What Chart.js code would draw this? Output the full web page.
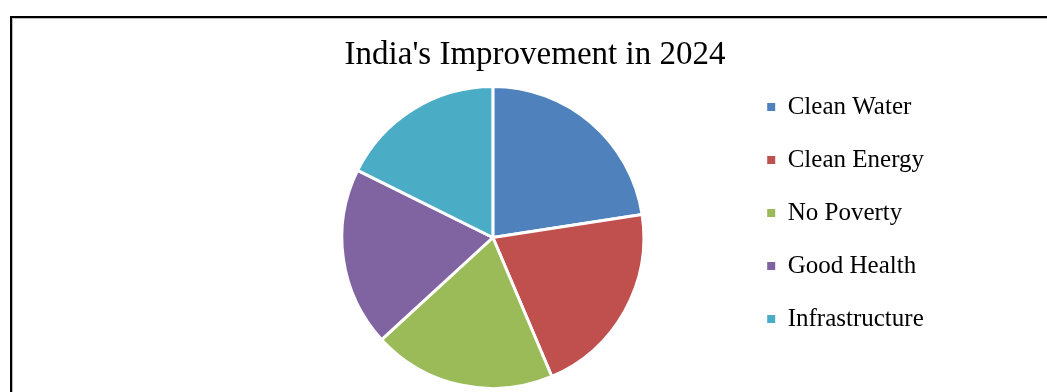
<!DOCTYPE html>
<html>
<head>
<meta charset="utf-8">
<script src="https://cdn.jsdelivr.net/npm/chart.js@4"></script>
<style>
  html, body { margin: 0; padding: 0; background: #fff; overflow: hidden; }
  #frame {
    position: absolute; left: 10px; top: 16px;
    width: 1060px; height: 400px;
    border: 2px solid #000; background: #fff;
  }
  #inner { border-top: 1px solid #bbb; border-left: 1px solid #bbb; height: 100%; }
  canvas { display: block; }
</style>
</head>
<body>
<div id="frame"><div id="inner"><canvas id="MyChart" width="1040" height="371"></canvas></div></div>
<script>
const categories = ['Clean Water', 'Clean Energy', 'No Poverty', 'Good Health', 'Infrastructure']
const shares = [22.6, 21.1, 19.6, 19.2, 17.7]
const sliceColors = ['#4F81BD', '#C0504D', '#9BBB59', '#8064A2', '#4BACC6']

let MyChart = document.getElementById('MyChart').getContext('2d')

// default pie legend items, but without the white slice border on the little squares
const pieLabels = Chart.overrides.pie.plugins.legend.labels.generateLabels

let improvementChart = new Chart(MyChart, {
    type: 'pie',
    data: {
        labels: categories,
        datasets: [{
            label: 'Improvement',
            data: shares,
            backgroundColor: sliceColors,
            borderColor: '#fff',
            borderWidth: 3
        }]
    },
    options: {
        responsive: false,
        animation: false,
        devicePixelRatio: 1,
        layout: {
            padding: { top: 17, bottom: 0, left: 123, right: 119 }
        },
        plugins: {
            title: {
                display: true,
                text: "India's Improvement in 2024",
                color: '#000',
                font: { family: 'Liberation Serif', size: 33, weight: 'normal' },
                padding: { top: 0, bottom: 9.4 }
            },
            // empty left box, only pushes the pie to the right
            subtitle: {
                display: true,
                text: '',
                position: 'left',
                font: { size: 10 },
                padding: { top: 98.5, bottom: 0 }
            },
            legend: {
                display: true,
                position: 'right',
                labels: {
                    color: '#000',
                    font: { family: 'Liberation Serif', size: 25 },
                    boxWidth: 8,
                    boxHeight: 8,
                    padding: 28,
                    generateLabels: (chart) => pieLabels(chart).map(item => ({ ...item, lineWidth: 0 }))
                }
            },
            tooltip: { enabled: false }
        }
    }
})
</script>
</body>
</html>
